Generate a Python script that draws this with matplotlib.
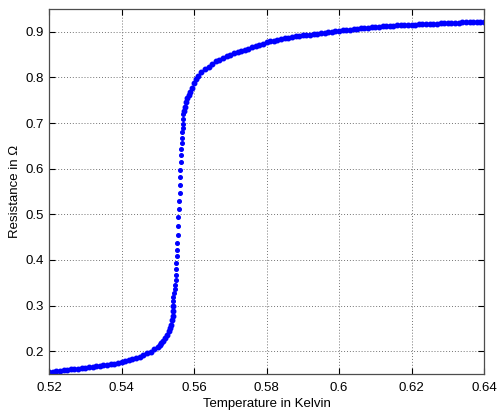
import matplotlib
matplotlib.use("Agg")
import matplotlib.pyplot as plt

# low temperature tail (superconducting side)
temp_low = [0.520, 0.521, 0.522, 0.523, 0.524, 0.525, 0.526, 0.527, 0.528, 0.529,
            0.530, 0.531, 0.532, 0.533, 0.534, 0.535, 0.536, 0.537, 0.538, 0.539,
            0.540, 0.541, 0.542, 0.543, 0.544, 0.545, 0.546, 0.547, 0.548, 0.549,
            0.550, 0.5505, 0.551, 0.5515, 0.552, 0.5525, 0.553, 0.5533, 0.5536,
            0.5539, 0.5541, 0.5542, 0.5543]
res_low = [0.154, 0.155, 0.156, 0.157, 0.158, 0.159, 0.160, 0.161, 0.162, 0.163,
           0.164, 0.165, 0.166, 0.167, 0.168, 0.169, 0.170, 0.172, 0.173, 0.175,
           0.177, 0.179, 0.181, 0.183, 0.185, 0.188, 0.191, 0.195, 0.199, 0.204,
           0.210, 0.214, 0.218, 0.223, 0.228, 0.235, 0.244, 0.250, 0.258,
           0.268, 0.278, 0.288, 0.298]

# the transition
temp_trans = [0.5541, 0.5543, 0.5545, 0.5547, 0.5548, 0.5549, 0.5549, 0.5550,
              0.5551, 0.5552, 0.5553, 0.5554, 0.5555, 0.5556, 0.5557, 0.5558,
              0.5559, 0.5560, 0.5561, 0.5561, 0.5562, 0.5563, 0.5564, 0.5565,
              0.5566, 0.5567, 0.5568, 0.5569, 0.5570, 0.5571, 0.5571]
res_trans = [0.309, 0.318, 0.327, 0.336, 0.346, 0.357, 0.367, 0.380,
             0.393, 0.408, 0.422, 0.438, 0.455, 0.474, 0.494, 0.512,
             0.530, 0.547, 0.565, 0.581, 0.598, 0.615, 0.631, 0.644,
             0.656, 0.667, 0.680, 0.689, 0.699, 0.709, 0.719]

# normal state
temp_high = [0.5572, 0.5574, 0.5577, 0.558, 0.5585, 0.559, 0.5595, 0.560, 0.5605,
             0.561, 0.562, 0.563, 0.564, 0.565, 0.566, 0.567, 0.568, 0.569, 0.570,
             0.571, 0.572, 0.573, 0.574, 0.575, 0.576, 0.577, 0.578, 0.579, 0.580,
             0.581, 0.582, 0.583, 0.584, 0.585, 0.586, 0.587, 0.588, 0.589, 0.590,
             0.591, 0.592, 0.593, 0.594, 0.595, 0.596, 0.597, 0.598, 0.599, 0.600,
             0.601, 0.602, 0.603, 0.604, 0.605, 0.606, 0.607, 0.608, 0.609, 0.610,
             0.611, 0.612, 0.613, 0.614, 0.615, 0.616, 0.617, 0.618, 0.619, 0.620,
             0.621, 0.622, 0.623, 0.624, 0.625, 0.626, 0.627, 0.628, 0.629, 0.630,
             0.631, 0.632, 0.633, 0.634, 0.635, 0.636, 0.637, 0.638, 0.639, 0.640]
res_high = [0.727, 0.736, 0.747, 0.754, 0.762, 0.769, 0.777, 0.787, 0.796,
            0.803, 0.811, 0.818, 0.824, 0.830, 0.835, 0.839, 0.843, 0.847, 0.850,
            0.853, 0.856, 0.858, 0.861, 0.863, 0.866, 0.868, 0.871, 0.874, 0.877,
            0.879, 0.881, 0.883, 0.885, 0.886, 0.887, 0.889, 0.890, 0.891, 0.892,
            0.893, 0.894, 0.895, 0.896, 0.897, 0.898, 0.899, 0.900, 0.901, 0.902,
            0.903, 0.904, 0.905, 0.906, 0.907, 0.908, 0.909, 0.909, 0.910, 0.911,
            0.911, 0.912, 0.912, 0.913, 0.913, 0.914, 0.914, 0.915, 0.915, 0.916,
            0.916, 0.917, 0.917, 0.917, 0.918, 0.918, 0.918, 0.919, 0.919, 0.919,
            0.920, 0.920, 0.920, 0.921, 0.921, 0.921, 0.922, 0.922, 0.922, 0.922]

xticks = [0.52, 0.54, 0.56, 0.58, 0.6, 0.62, 0.64]
xticklabels = ['0.52', '0.54', '0.56', '0.58', '0.6', '0.62', '0.64']
yticks = [0.2, 0.3, 0.4, 0.5, 0.6, 0.7, 0.8, 0.9]

plt.rcParams['font.family'] = ['Liberation Sans', 'DejaVu Sans']

fig = plt.figure(figsize=(4.97, 4.12), dpi=100)
ax = fig.add_axes([0.0986, 0.0922, 0.8753, 0.8859])

# flat parts are dense in the original, so slightly larger dots there
ax.plot(temp_low, res_low, linestyle='none', marker='.', markersize=6.5, color='#0000ff')
ax.plot(temp_trans, res_trans, linestyle='none', marker='.', markersize=5.2, color='#0000ff')
ax.plot(temp_high, res_high, linestyle='none', marker='.', markersize=6.5, color='#0000ff')

ax.set_xlim(0.52, 0.64)
ax.set_ylim(0.15, 0.95)
ax.set_xticks(xticks)
ax.set_xticklabels(xticklabels)
ax.set_yticks(yticks)
ax.tick_params(direction='in', length=4, width=0.8, top=True, right=True,
               labelsize=9.5, colors='black', pad=4)
ax.tick_params(axis='x', pad=6)
for s in ax.spines.values():
    s.set_color('0.3')
    s.set_linewidth(0.9)
ax.grid(True, linestyle=(0, (1, 2)), color='0.45', linewidth=0.7)

ax.set_xlabel('Temperature in Kelvin', fontsize=9.5)
ax.set_ylabel('Resistance in Ω', fontsize=9.5)
ax.xaxis.set_label_coords(0.5, -0.066)
ax.yaxis.set_label_coords(-0.064, 0.5)

fig.savefig('out.png', dpi=100)
